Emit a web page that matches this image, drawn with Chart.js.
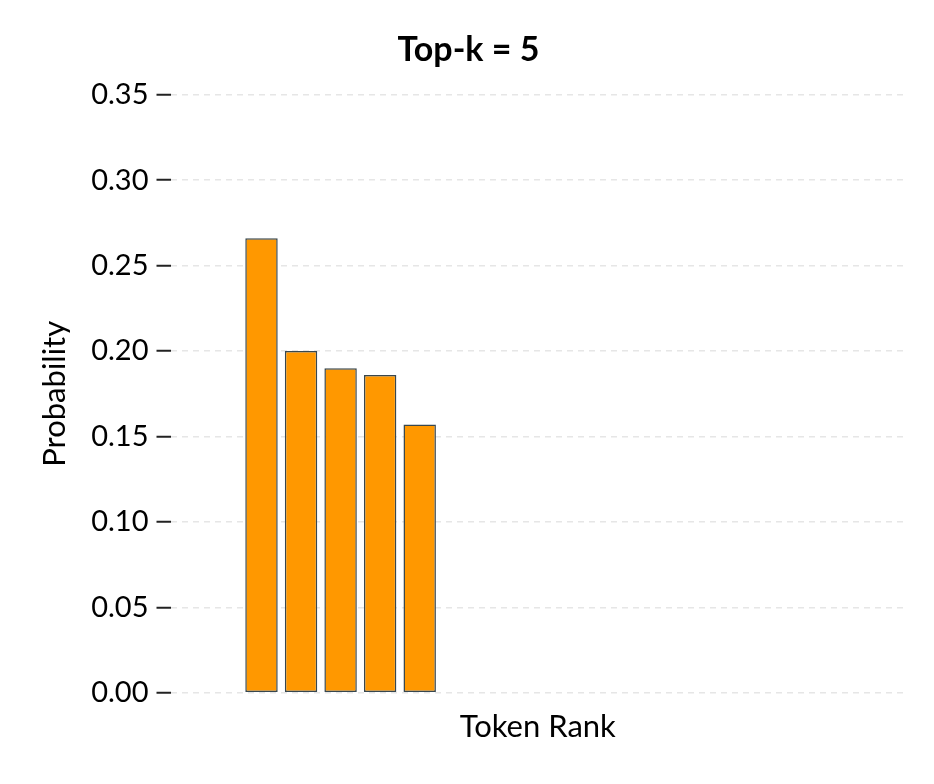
<!DOCTYPE html>
<html>
<head>
<meta charset="utf-8">
<script src="https://cdn.jsdelivr.net/npm/chart.js@4"></script>
<style>
  body { margin: 0; background: #fff; }
  #wrap { width: 934px; height: 784px; }
</style>
</head>
<body>
<div id="wrap"><canvas id="chart" width="934" height="784"></canvas></div>
<script>
// Token ranks (1..15) and their probabilities after top-k filtering
const ranks = [0, 1, 2, 3, 4, 5, 6, 7, 8, 9, 10, 11, 12, 13, 14];
const probs = [0.266, 0.200, 0.190, 0.186, 0.157, 0, 0, 0, 0, 0, 0, 0, 0, 0, 0];
const yTicks = [0, 0.05, 0.10, 0.15, 0.20, 0.25, 0.30, 0.35];

const font = "Lato, sans-serif";

new Chart(document.getElementById('chart'), {
    type: 'bar',
    data: {
        datasets: [{
            data: ranks.map((r, i) => ({ x: r, y: probs[i] })),
            backgroundColor: '#ff9800',
            borderColor: '#37474f',
            borderWidth: 1.5,
            borderSkipped: false,
            barPercentage: 0.82,
            categoryPercentage: 1
        }]
    },
    options: {
        responsive: false,
        animation: false,
        layout: { padding: { left: 32, right: 29, top: 26, bottom: 34 } },
        plugins: {
            legend: { display: false },
            tooltip: { enabled: false },
            title: {
                display: true,
                text: 'Top-k = 5',
                color: '#000',
                font: { family: font, size: 34, weight: 'bold' },
                padding: { top: 4, bottom: 24 }
            }
        },
        scales: {
            x: {
                type: 'linear',
                min: -1.14,
                max: 15.11,
                border: { display: false },
                grid: { display: false },
                ticks: { display: false },
                title: {
                    display: true,
                    text: 'Token Rank',
                    color: '#000',
                    font: { family: font, size: 31 },
                    padding: { top: 8 }
                }
            },
            y: {
                min: 0,
                max: 0.35,
                afterBuildTicks: axis => { axis.ticks = yTicks.map(v => ({ value: v })); },
                border: { display: false, dash: [6, 5] },
                grid: {
                    color: '#e6e6e6',
                    lineWidth: 1.5,
                    tickColor: '#222',
                    tickLength: 14,
                    tickWidth: 2
                },
                ticks: {
                    color: '#000',
                    padding: 8,
                    font: { family: font, size: 29 },
                    callback: v => v.toFixed(2)
                },
                title: {
                    display: true,
                    text: 'Probability',
                    color: '#000',
                    font: { family: font, size: 31 },
                    padding: { bottom: 10 }
                }
            }
        }
    }
});
</script>
</body>
</html>
